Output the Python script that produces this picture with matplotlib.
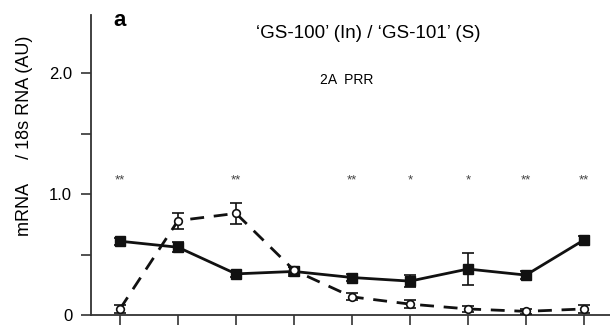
import matplotlib
matplotlib.use("Agg")
import matplotlib.pyplot as plt
import numpy as np

plt.rcParams['font.family'] = ['Liberation Sans', 'DejaVu Sans']

x = list(range(9))
in_vals = [0.61, 0.56, 0.34, 0.36, 0.31, 0.28, 0.38, 0.33, 0.62]
in_err = [0.03, 0.04, 0.025, 0.04, 0.03, 0.05, 0.13, 0.03, 0.03]
s_vals = [0.05, 0.78, 0.84, 0.37, 0.15, 0.09, 0.05, 0.03, 0.05]
s_err = [0.03, 0.065, 0.085, 0.03, 0.03, 0.03, 0.025, 0.02, 0.03]
stars = ['**', '', '**', '', '**', '*', '*', '**', '**']
star_y = 1.11

fig = plt.figure(figsize=(6.1, 3.28), dpi=100)
ax = fig.add_axes([91/610, 13/328, 1 - 91/610, (315-15)/328])

ax.errorbar(x, in_vals, yerr=in_err, color='#111111', lw=2, marker='s', ms=7,
            mfc='#111111', mec='#111111', capsize=4, elinewidth=1.2, capthick=1.2, zorder=3)
ax.errorbar(x, s_vals, yerr=s_err, color='#111111', lw=2, ls=(0, (5, 3.5)), marker='o', ms=5.5,
            mfc='white', mec='#111111', mew=1.2, capsize=4, elinewidth=1.2, capthick=1.2, zorder=4)

for xi, st in zip(x, stars):
    if st:
        ax.text(xi, star_y, st, ha='center', va='center', fontsize=9.5, color='#444444')

ax.set_xlim(-0.5, 8.45)
ax.set_ylim(0, 2.48)
ax.set_xticks(x)
ax.set_xticklabels([])
ax.set_yticks([0, 0.5, 1.0, 1.5, 2.0])
ax.set_yticklabels(['0', '', '1.0', '', '2.0'], fontsize=12)
ax.tick_params(axis='both', direction='out', length=7, width=1.2, color='#333333')
ax.tick_params(axis='y', pad=6.5)
for s in ['top', 'right']:
    ax.spines[s].set_visible(False)
for s in ['left', 'bottom']:
    ax.spines[s].set_linewidth(1.3)
    ax.spines[s].set_color('#333333')

ax.set_ylabel('mRNA     / 18s RNA (AU)', fontsize=13)
ax.yaxis.set_label_coords(-0.111, 0.597)

fig.text(120/610, 1 - 21/328, 'a', fontsize=16, fontweight='bold', ha='center', va='center')
fig.text(368/610, 1 - 33/328, '\u2018GS-100\u2019 (In) / \u2018GS-101\u2019 (S)', fontsize=13.5,
         ha='center', va='center')
fig.text(347/610, 1 - 80/328, '2A  PRR', fontsize=10, ha='center', va='center')

fig.savefig('out.png', dpi=100)
